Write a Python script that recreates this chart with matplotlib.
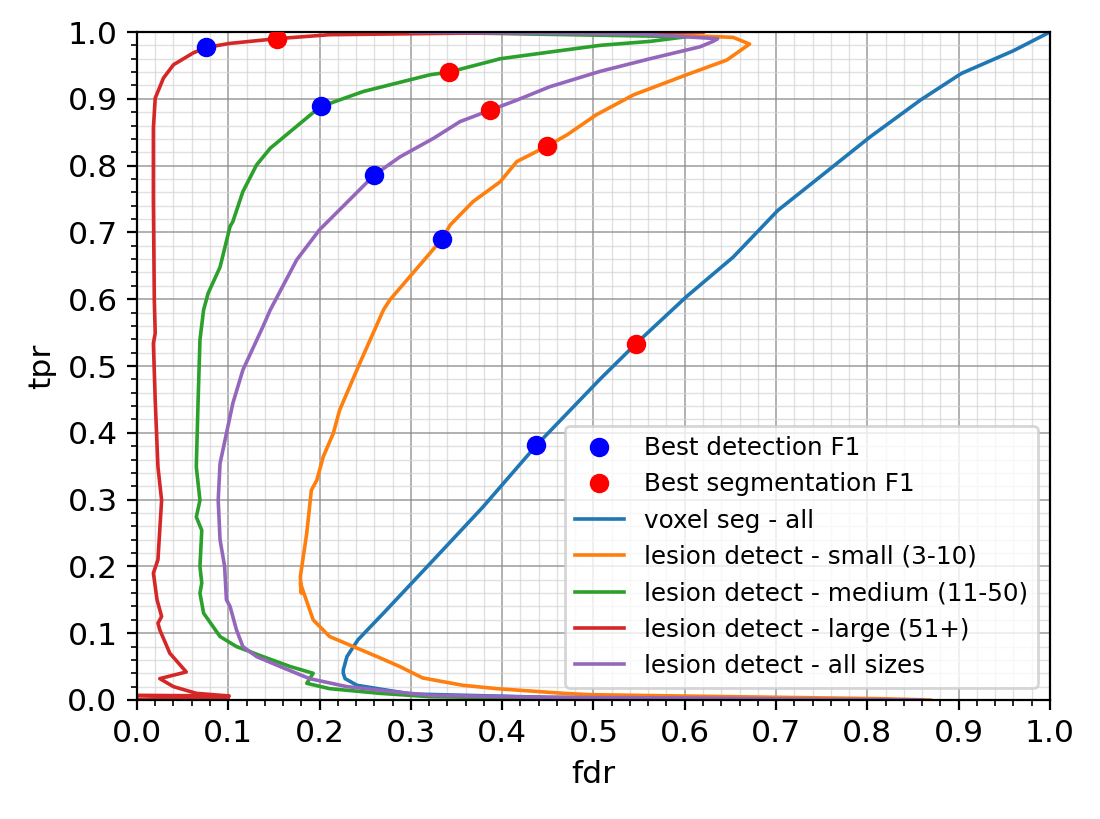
import numpy as np
import matplotlib
matplotlib.use("Agg")
import matplotlib.pyplot as plt
from matplotlib.ticker import MultipleLocator

# best operating points (fdr, tpr)
best_det_fdr = [0.076, 0.2015, 0.260, 0.334, 0.437]
best_det_tpr = [0.977, 0.889, 0.786, 0.690, 0.382]
best_seg_fdr = [0.153, 0.342, 0.387, 0.449, 0.547]
best_seg_tpr = [0.990, 0.940, 0.883, 0.829, 0.533]

voxel_fdr = [1.0, 0.960, 0.903, 0.858, 0.803, 0.748, 0.702, 0.653, 0.602, 0.547, 0.507,
             0.438, 0.379, 0.325, 0.270, 0.242, 0.230, 0.226, 0.226, 0.228, 0.241,
             0.30, 0.45, 0.65, 0.85]
voxel_tpr = [1.0, 0.972, 0.938, 0.898, 0.843, 0.783, 0.733, 0.663, 0.604, 0.534, 0.480,
             0.382, 0.289, 0.210, 0.130, 0.090, 0.065, 0.045, 0.040, 0.032, 0.022,
             0.009, 0.004, 0.002, 0.0]

small_fdr = [0.30, 0.598, 0.653, 0.671, 0.646, 0.602, 0.544, 0.503, 0.471, 0.449, 0.416,
             0.398, 0.368, 0.343, 0.334, 0.321, 0.277, 0.270, 0.244, 0.222, 0.215,
             0.204, 0.197, 0.191, 0.186, 0.179, 0.180, 0.179, 0.193, 0.211, 0.237,
             0.263, 0.288, 0.313, 0.357, 0.394, 0.467, 0.496, 0.595, 0.704, 0.814, 0.869]
small_tpr = [1.0, 0.995, 0.992, 0.982, 0.958, 0.936, 0.906, 0.876, 0.846, 0.829, 0.806,
             0.776, 0.746, 0.711, 0.690, 0.669, 0.599, 0.584, 0.504, 0.434, 0.399,
             0.364, 0.329, 0.314, 0.250, 0.185, 0.160, 0.175, 0.120, 0.095, 0.080,
             0.065, 0.050, 0.033, 0.022, 0.017, 0.010, 0.008, 0.006, 0.004, 0.002, 0.0]

medium_fdr = [0.30, 0.602, 0.562, 0.507, 0.452, 0.398, 0.342, 0.321, 0.248, 0.211, 0.2015,
              0.168, 0.146, 0.131, 0.116, 0.105, 0.102, 0.091, 0.078, 0.073, 0.069,
              0.067, 0.065, 0.069, 0.065, 0.071, 0.069, 0.071, 0.069, 0.073, 0.091,
              0.109, 0.138, 0.168, 0.193, 0.186, 0.211, 0.266, 0.321, 0.42, 0.55]
medium_tpr = [1.0, 0.993, 0.986, 0.980, 0.970, 0.960, 0.940, 0.936, 0.911, 0.893, 0.889,
              0.851, 0.826, 0.801, 0.761, 0.716, 0.709, 0.648, 0.609, 0.584, 0.539,
              0.449, 0.349, 0.299, 0.274, 0.254, 0.200, 0.175, 0.160, 0.130, 0.095,
              0.080, 0.065, 0.050, 0.040, 0.025, 0.017, 0.010, 0.005, 0.003, 0.001]

large_fdr = [0.62, 0.40, 0.211, 0.153, 0.102, 0.076, 0.062, 0.040, 0.029, 0.023, 0.020,
             0.018, 0.018, 0.019, 0.020, 0.018, 0.020, 0.023, 0.027, 0.023, 0.018,
             0.022, 0.027, 0.023, 0.025, 0.036, 0.054, 0.025, 0.040, 0.065, 0.101,
             0.0, 0.0, 0.100]
large_tpr = [1.0, 0.999, 0.996, 0.990, 0.983, 0.977, 0.969, 0.951, 0.931, 0.911, 0.901,
             0.856, 0.749, 0.599, 0.549, 0.534, 0.449, 0.349, 0.299, 0.210, 0.190,
             0.150, 0.125, 0.115, 0.105, 0.070, 0.042, 0.032, 0.020, 0.010, 0.006,
             0.007, 0.001, 0.003]

all_fdr = [0.30, 0.55, 0.636, 0.631, 0.617, 0.562, 0.507, 0.452, 0.416, 0.387, 0.354,
           0.325, 0.288, 0.260, 0.233, 0.200, 0.175, 0.146, 0.138, 0.116, 0.105,
           0.098, 0.091, 0.089, 0.091, 0.096, 0.098, 0.102, 0.109, 0.116, 0.131,
           0.157, 0.189, 0.230, 0.284, 0.321, 0.45, 0.60, 0.75, 0.86]
all_tpr = [1.0, 0.997, 0.990, 0.986, 0.978, 0.960, 0.941, 0.918, 0.898, 0.883, 0.866,
           0.841, 0.813, 0.786, 0.749, 0.704, 0.659, 0.584, 0.559, 0.494, 0.444,
           0.399, 0.354, 0.299, 0.240, 0.200, 0.150, 0.140, 0.105, 0.080, 0.065,
           0.050, 0.032, 0.020, 0.012, 0.007, 0.004, 0.003, 0.001, 0.0]

fig = plt.figure(figsize=(5.5, 4.095), dpi=200)
ax = fig.add_axes([0.1245, 0.1453, 0.83, 0.8156])

ax.plot(best_det_fdr, best_det_tpr, 'bo', label='Best detection F1', zorder=5)
ax.plot(best_seg_fdr, best_seg_tpr, 'ro', label='Best segmentation F1', zorder=5)
ax.plot(voxel_fdr, voxel_tpr, lw=1.3, label='voxel seg - all')
ax.plot(small_fdr, small_tpr, lw=1.3, label='lesion detect - small (3-10)')
ax.plot(medium_fdr, medium_tpr, lw=1.3, label='lesion detect - medium (11-50)')
ax.plot(large_fdr, large_tpr, lw=1.3, label='lesion detect - large (51+)')
ax.plot(all_fdr, all_tpr, lw=1.3, label='lesion detect - all sizes')

ax.set_xlim(0, 1)
ax.set_ylim(0, 1)
ax.xaxis.set_major_locator(MultipleLocator(0.1))
ax.yaxis.set_major_locator(MultipleLocator(0.1))
ax.xaxis.set_minor_locator(MultipleLocator(0.02))
ax.yaxis.set_minor_locator(MultipleLocator(0.02))
ax.grid(which='major', color='#8c8c8c', linewidth=0.6, alpha=0.8)
ax.grid(which='minor', color='#d4d4d4', linewidth=0.5, alpha=0.7)
ax.tick_params(labelsize=11.3)
ax.set_xlabel('fdr', fontsize=11.3)
ax.set_ylabel('tpr', fontsize=11.3)
ax.legend(loc='lower right', fontsize=8.85)

fig.savefig('out.png', dpi=200)
